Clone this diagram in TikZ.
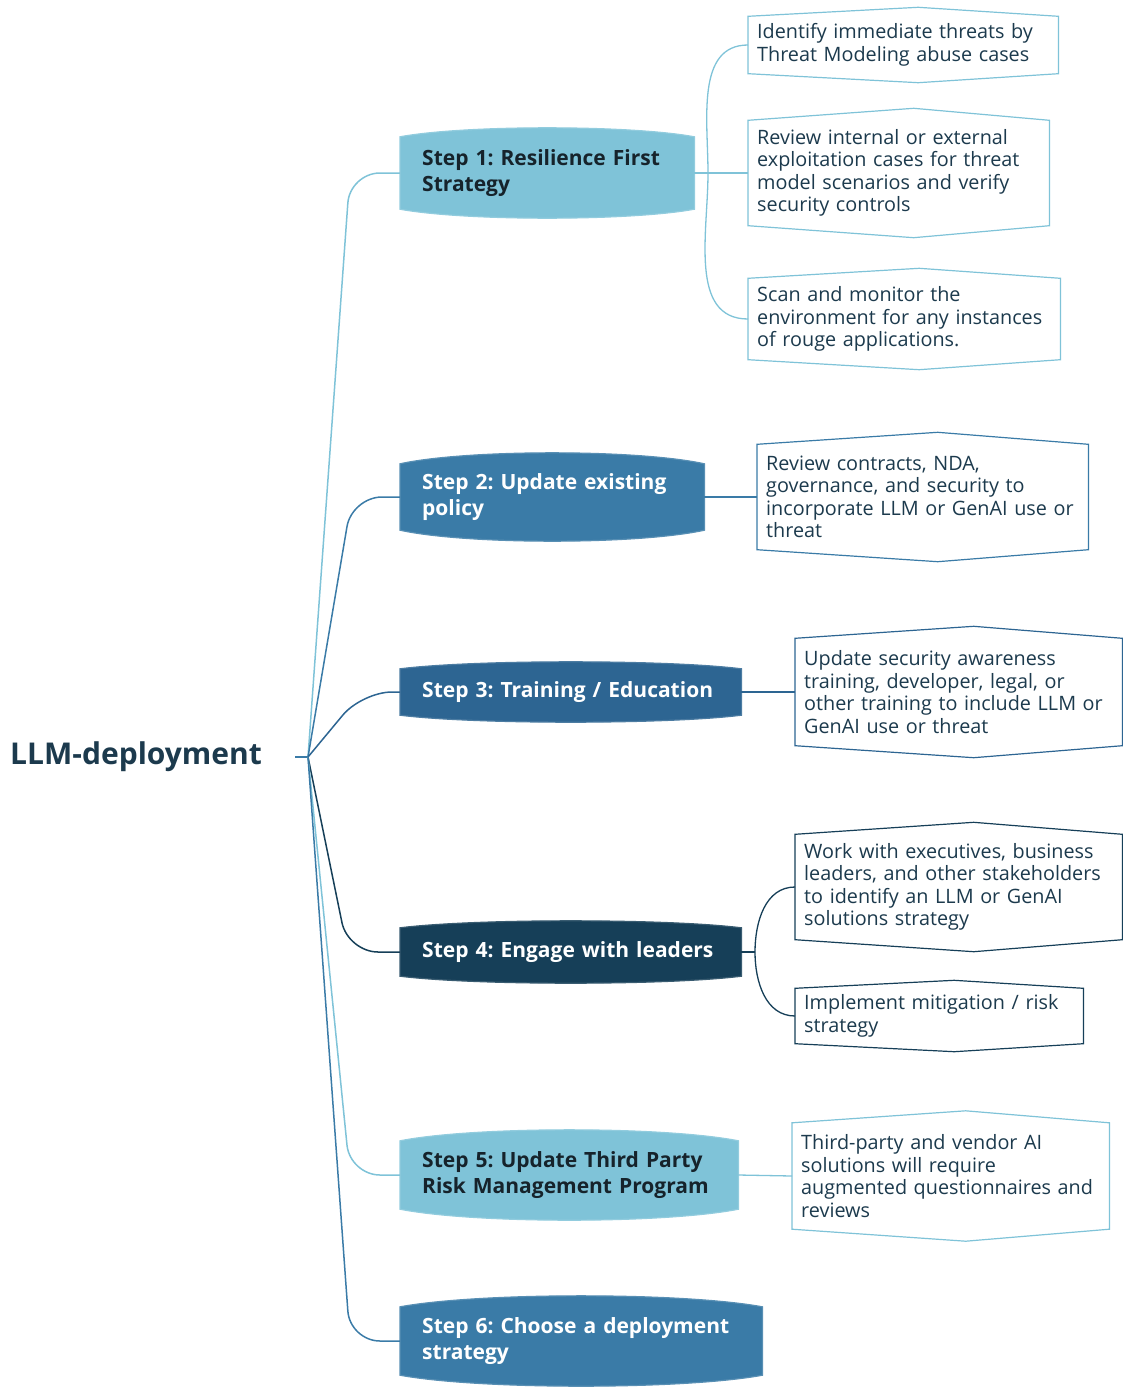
\documentclass[tikz,border=0pt]{standalone}
\usepackage{fontspec}
\setmainfont{Open Sans}
\frenchspacing
\usetikzlibrary{backgrounds,calc}

\definecolor{lightblue}{HTML}{7FC3D8}
\definecolor{midblue}{HTML}{3A7BA7}
\definecolor{deepblue}{HTML}{2D6592}
\definecolor{navyblue}{HTML}{163F58}
\definecolor{inktext}{HTML}{1C3A4D}
\definecolor{darktext}{HTML}{16232B}

\tikzset{
  stepbox/.style={anchor=west, inner xsep=22pt, inner ysep=0pt, align=left,
    font=\fontsize{21}{26}\selectfont\bfseries},
  leafbox/.style={anchor=west, inner xsep=9pt, inner ysep=0pt, align=left,
    text=inktext, font=\fontsize{19.8}{22.5}\selectfont},
  link/.style={line width=1.5pt, rounded corners=30pt},
  twig/.style={line width=1.3pt},
}

% rounded top and bottom for a step
\newcommand{\stepshape}[3]{%
  \path[fill=#2, draw=#2!85!white, line width=1.2pt]
    (#1.north west)
      .. controls ([yshift=1.33*#3]$(#1.north west)!0.22!(#1.north east)$)
             and ([yshift=1.33*#3]$(#1.north west)!0.78!(#1.north east)$) .. (#1.north east)
    -- (#1.south east)
      .. controls ([yshift=-1.33*#3]$(#1.south west)!0.78!(#1.south east)$)
             and ([yshift=-1.33*#3]$(#1.south west)!0.22!(#1.south east)$) .. (#1.south west)
    -- cycle;}
% pointed top and bottom for a leaf
\newcommand{\leafshape}[3]{%
  \path[fill=white, draw=#2, line width=1.2pt]
    (#1.north west) -- ([yshift=#3, xshift=15pt]#1.north) -- (#1.north east)
    -- (#1.south east) -- ([yshift=-#3, xshift=15pt]#1.south) -- (#1.south west) -- cycle;}

\begin{document}
\begin{tikzpicture}[x=1pt, y=-1pt]
\useasboundingbox (0,0) rectangle (1123,1389);

\node[anchor=west, inner xsep=10pt, text width=275pt, align=left, text=inktext,
  font=\fontsize{30}{34}\selectfont\bfseries] (root) at (0,757) {LLM-deployment};
\coordinate (hub) at (308,757);

% steps
\node[stepbox, text width=250pt, minimum height=72pt, text=darktext] (s1) at (400,173) {Step 1: Resilience First\\Strategy};
\node[stepbox, text width=260pt, minimum height=66pt, text=white] (s2) at (400,497) {Step 2: Update existing\\policy};
\node[stepbox, text width=297pt, minimum height=46pt, text=white] (s3) at (400,692) {Step 3: Training / Education};
\node[stepbox, text width=297pt, minimum height=48pt, text=white] (s4) at (400,952) {Step 4: Engage with leaders};
\node[stepbox, text width=294pt, minimum height=68pt, text=darktext] (s5) at (400,1175) {Step 5: Update Third Party\\Risk Management Program};
\node[stepbox, text width=318pt, minimum height=68pt, text=white] (s6) at (400,1341) {Step 6: Choose a deployment\\strategy};

% leaves
\node[leafbox, text width=292pt, minimum height=57pt] (l1a) at (748,45) {Identify immediate threats by\\Threat Modeling abuse cases};
\node[leafbox, text width=283pt, minimum height=105pt] (l1b) at (748,173) {Review internal or external\\exploitation cases for threat\\model scenarios and verify\\security controls};
\node[leafbox, text width=294pt, minimum height=81pt] (l1c) at (748,319) {Scan and monitor the\\environment for any instances\\of rouge applications.};
\node[leafbox, text width=313pt, minimum height=105pt] (l2) at (757,497) {Review contracts, NDA,\\governance, and security to\\incorporate LLM or GenAI use or\\threat};
\node[leafbox, text width=309pt, minimum height=107pt] (l3) at (795,692) {Update security awareness\\training, developer, legal, or\\other training to include LLM or\\GenAI use or threat};
\node[leafbox, text width=309pt, minimum height=105pt] (l4a) at (795,887) {Work with executives, business\\leaders, and other stakeholders\\to identify an LLM or GenAI\\solutions strategy};
\node[leafbox, text width=270pt, minimum height=55pt] (l4b) at (795,1016) {Implement mitigation / risk\\strategy};
\node[leafbox, text width=299pt, minimum height=106pt] (l5) at (792,1176) {Third-party and vendor AI\\solutions will require\\augmented questionnaires and\\reviews};

\begin{scope}[on background layer]
  \stepshape{s1}{lightblue}{9pt}
  \stepshape{s2}{midblue}{11pt}
  \stepshape{s3}{deepblue}{7pt}
  \stepshape{s4}{navyblue}{7pt}
  \stepshape{s5}{lightblue}{11pt}
  \stepshape{s6}{midblue}{11pt}
  \leafshape{l1a}{lightblue}{9pt}
  \leafshape{l1b}{lightblue}{12pt}
  \leafshape{l1c}{lightblue}{10pt}
  \leafshape{l2}{midblue}{12pt}
  \leafshape{l3}{deepblue}{12pt}
  \leafshape{l4a}{navyblue}{12pt}
  \leafshape{l4b}{navyblue}{8pt}
  \leafshape{l5}{lightblue}{12pt}
\end{scope}

% hub to steps
\draw[twig, midblue] (root.east) -- (hub);
\draw[link, lightblue] (hub) -- (350,173) -- (s1.west);
\draw[link, midblue] (hub) -- (352,497) -- (s2.west);
\draw[link, deepblue] (hub) -- (362,692) -- (s3.west);
\draw[link, navyblue] (hub) -- (348,952) -- (s4.west);
\draw[link, lightblue] (hub) -- (350,1175) -- (s5.west);
\draw[link, midblue] (hub) -- (350,1341) -- (s6.west);

% steps to leaves
\coordinate (j1) at (708,173);
\draw[twig, lightblue] (s1.east) -- (j1) -- (l1b.west);
\draw[twig, lightblue] (j1) to[out=90, in=180] (l1a.west);
\draw[twig, lightblue] (j1) to[out=-90, in=180] (l1c.west);
\path[twig, midblue] (s2.east) edge (l2.west);
\path[twig, deepblue] (s3.east) edge (l3.west);
\coordinate (j4) at (755,952);
\draw[twig, navyblue] (s4.east) -- (j4);
\draw[twig, navyblue] (j4) to[out=90, in=180] (l4a.west);
\draw[twig, navyblue] (j4) to[out=-90, in=180] (l4b.west);
\path[twig, lightblue] (s5.east) edge (l5.west);
\end{tikzpicture}
\end{document}
